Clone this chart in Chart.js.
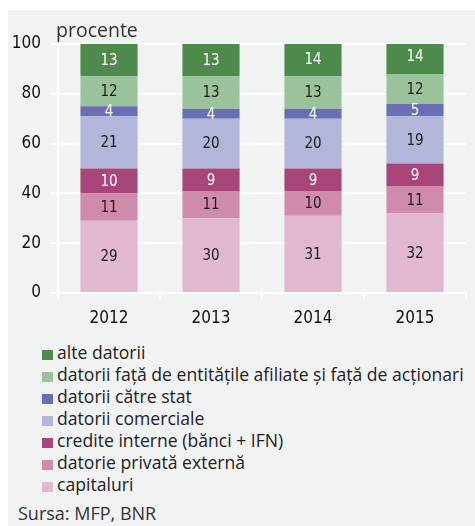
<!DOCTYPE html>
<html>
<head>
<meta charset="utf-8">
<title>Structura finanțării companiilor</title>
<script src="https://cdn.jsdelivr.net/npm/chart.js"></script>
<style>
    html, body { margin: 0; padding: 0; background: #fff; }
    body { width: 475px; height: 526px; position: relative; overflow: hidden; }
    .panel { position: absolute; left: 8px; top: 10px; right: 0; bottom: 0; background: #f1f2f2; }
    .chart-box { position: absolute; left: 0; top: 0; width: 475px; height: 333px; }
    .unit { position: absolute; left: 56px; top: 16px; font: 19.5px "Open Sans", "Noto Sans", sans-serif; color: #333; }
    .legend { position: absolute; left: 42px; top: 341px; margin: 0; padding: 0; list-style: none;
              font: 17.6px "Open Sans", "Noto Sans", sans-serif; color: #222; }
    .legend li { height: 22px; line-height: 22px; white-space: nowrap; }
    .legend span { display: inline-block; width: 11px; height: 10px; margin-right: 4px; vertical-align: -1px; }
    .source { position: absolute; left: 18px; top: 501px; font: 18px "Open Sans", "Noto Sans", sans-serif; color: #333; }
</style>
</head>
<body>
<div class="panel"></div>
<div class="chart-box"><canvas id="structChart"></canvas></div>
<div class="unit">procente</div>
<ul class="legend" id="legend"></ul>
<div class="source">Sursa: MFP, BNR</div>

<script>
    // Ani
    const years = ['2012', '2013', '2014', '2015'];

    // Ponderi (%), de jos în sus
    const capitaluri = [29, 30, 31, 32];
    const datoriePrivataExterna = [11, 11, 10, 11];
    const crediteInterne = [10, 9, 9, 9];
    const datoriiComerciale = [21, 20, 20, 19];
    const datoriiCatreStat = [4, 4, 4, 5];
    const datoriiAfiliate = [12, 13, 13, 12];
    const alteDatorii = [13, 13, 14, 14];

    const yTicks = [0, 20, 40, 60, 80, 100];

    const series = [
        { label: 'capitaluri', data: capitaluri, color: '#e2b8d0', text: '#1a1a1a' },
        { label: 'datorie privată externă', data: datoriePrivataExterna, color: '#cf8bac', text: '#1a1a1a' },
        { label: 'credite interne (bănci + IFN)', data: crediteInterne, color: '#a94679', text: '#ffffff' },
        { label: 'datorii comerciale', data: datoriiComerciale, color: '#b3b5da', text: '#1a1a1a' },
        { label: 'datorii către stat', data: datoriiCatreStat, color: '#6a6fb3', text: '#ffffff' },
        { label: 'datorii față de entitățile afiliate și față de acționari', data: datoriiAfiliate, color: '#9bc39b', text: '#1a1a1a' },
        { label: 'alte datorii', data: alteDatorii, color: '#4e8a4b', text: '#ffffff' }
    ];

    const numFont = '"Liberation Sans Narrow", "DejaVu Sans Condensed", sans-serif';

    // Valorile scrise în mijlocul fiecărui segment
    const segmentLabels = {
        id: 'segmentLabels',
        afterDatasetsDraw(chart) {
            const ctx = chart.ctx;
            ctx.save();
            ctx.font = '15px ' + numFont;
            ctx.textAlign = 'center';
            ctx.textBaseline = 'middle';
            chart.data.datasets.forEach((ds, i) => {
                const meta = chart.getDatasetMeta(i);
                meta.data.forEach((bar, j) => {
                    ctx.fillStyle = series[i].text;
                    ctx.fillText(String(ds.data[j]), bar.x, (bar.y + bar.base) / 2 + 1);
                });
            });
            ctx.restore();
        }
    };

    new Chart(document.getElementById('structChart'), {
        type: 'bar',
        data: {
            labels: years,
            datasets: series.map(s => ({
                label: s.label,
                data: s.data,
                backgroundColor: s.color,
                borderWidth: 0,
                categoryPercentage: 1,
                barPercentage: 0.56
            }))
        },
        options: {
            responsive: true,
            maintainAspectRatio: false,
            animation: false,
            layout: { padding: { top: 44, right: 9, left: 0, bottom: 0 } },
            plugins: {
                legend: { display: false },
                tooltip: { enabled: false }
            },
            scales: {
                x: {
                    stacked: true,
                    offset: true,
                    grid: { display: true, drawOnChartArea: false, drawTicks: true, tickLength: 6, color: '#ffffff', lineWidth: 2, offset: true },
                    border: { display: true, color: '#ffffff', width: 2 },
                    ticks: { color: '#111', font: { family: numFont, size: 17 }, padding: 9 },
                    afterFit(scale) { scale.height = 40; }
                },
                y: {
                    stacked: true,
                    min: 0,
                    max: 100,
                    afterBuildTicks(scale) { scale.ticks = yTicks.map(v => ({ value: v })); },
                    grid: { color: '#ffffff', lineWidth: 2, tickLength: 7, drawTicks: true },
                    border: { display: true, color: '#ffffff', width: 2 },
                    ticks: { color: '#111', font: { family: numFont, size: 17 }, padding: 10 },
                    afterFit(scale) { scale.width = 58; }
                }
            }
        },
        plugins: [segmentLabels]
    });

    // Legenda, de sus în jos
    const legend = document.getElementById('legend');
    series.slice().reverse().forEach(s => {
        const li = document.createElement('li');
        const box = document.createElement('span');
        box.style.background = s.color;
        li.appendChild(box);
        li.appendChild(document.createTextNode(s.label));
        legend.appendChild(li);
    });
</script>
</body>
</html>
